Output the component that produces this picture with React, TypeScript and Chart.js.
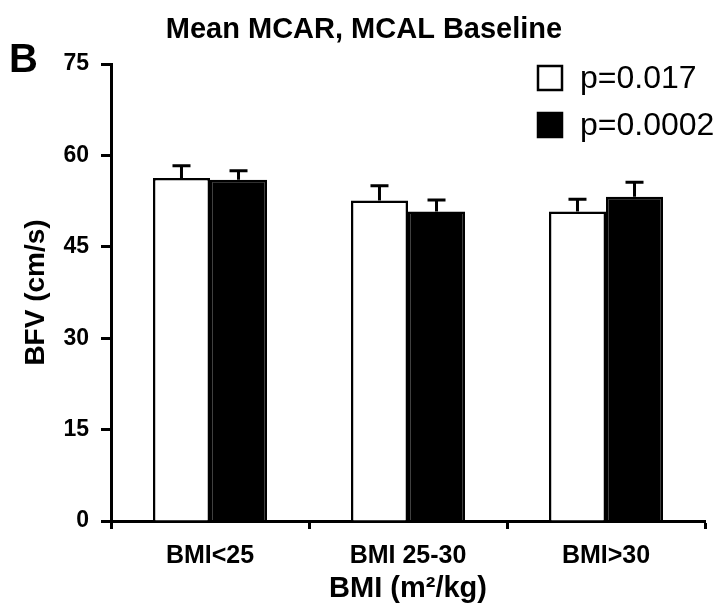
import React, { useEffect, useRef } from "react";
import { Chart, registerables } from "chart.js";

Chart.register(...registerables);

const categories = ["BMI<25", "BMI 25-30", "BMI>30"];
const seriesLabels = ["p=0.017", "p=0.0002"];
const whiteValues = [56.3, 52.6, 50.8];
const whiteErrors = [2.0, 2.4, 2.0];
const blackValues = [56.0, 50.8, 53.2];
const blackErrors = [1.5, 1.9, 2.4];
const yTicks = [0, 15, 30, 45, 60, 75];
const chartTitle = "Mean MCAR, MCAL Baseline";
const panelLetter = "B";
const yTitle = "BFV (cm/s)";
const xTitle = "BMI (m\u00B2/kg)";

const FONT = '"Liberation Sans", Arial, Helvetica, sans-serif';

const errorBarsPlugin = {
  id: "errorBars",
  afterDatasetsDraw(chart: any) {
    const ctx = chart.ctx;
    const yScale = chart.scales.y;
    chart.data.datasets.forEach((ds: any, di: number) => {
      const meta = chart.getDatasetMeta(di);
      meta.data.forEach((el: any, i: number) => {
        const v = ds.data[i];
        const e = ds.errors[i];
        const yTop = yScale.getPixelForValue(v + e);
        const yBar = yScale.getPixelForValue(v);
        ctx.save();
        ctx.strokeStyle = "#000";
        ctx.lineWidth = 3;
        ctx.beginPath();
        ctx.moveTo(el.x, yBar);
        ctx.lineTo(el.x, yTop);
        ctx.moveTo(el.x - 9, yTop);
        ctx.lineTo(el.x + 9, yTop);
        ctx.stroke();
        ctx.restore();
      });
    });
  },
};

const decorPlugin = {
  id: "decor",
  afterDraw(chart: any) {
    const ctx = chart.ctx;
    ctx.save();
    ctx.fillStyle = "#000";
    ctx.textBaseline = "middle";
    ctx.textAlign = "center";
    ctx.font = `bold 29px ${FONT}`;
    ctx.fillText(chartTitle, 364, 30);
    ctx.textAlign = "left";
    ctx.font = `bold 40px ${FONT}`;
    ctx.fillText(panelLetter, 9, 61);
    // legend
    const items = chart.data.datasets;
    const ys = [78, 125];
    items.forEach((ds: any, i: number) => {
      const y = ys[i];
      ctx.fillStyle = ds.backgroundColor;
      ctx.fillRect(538, y - 12, 24, 24);
      ctx.strokeStyle = "#000";
      ctx.lineWidth = 2.5;
      ctx.strokeRect(538, y - 12, 24, 24);
      ctx.fillStyle = "#000";
      ctx.font = `32px ${FONT}`;
      ctx.fillText(ds.label, 580, y + 1);
    });
    ctx.restore();
  },
};

export default function App() {
  const ref = useRef<HTMLCanvasElement | null>(null);
  useEffect(() => {
    if (!ref.current) return;
    const chart = new Chart(ref.current, {
      type: "bar",
      data: {
        labels: categories,
        datasets: [
          {
            label: seriesLabels[0],
            data: whiteValues,
            errors: whiteErrors,
            backgroundColor: "#ffffff",
            borderColor: "#000000",
            borderWidth: 2.5,
            categoryPercentage: 0.576,
            barPercentage: 1,
          } as any,
          {
            label: seriesLabels[1],
            data: blackValues,
            errors: blackErrors,
            backgroundColor: "#000000",
            borderColor: "#000000",
            borderWidth: 2.5,
            categoryPercentage: 0.576,
            barPercentage: 1,
          } as any,
        ],
      },
      options: {
        animation: false,
        responsive: false,
        maintainAspectRatio: false,
        layout: { padding: { top: 64, right: 18, left: 0, bottom: 0 } },
        plugins: {
          legend: { display: false },
          title: { display: false },
          tooltip: { enabled: false },
        },
        scales: {
          x: {
            offset: true,
            grid: {
              offset: true,
              drawOnChartArea: false,
              drawTicks: true,
              tickLength: 8,
              tickWidth: 3,
              tickColor: "#000",
            },
            border: { display: true, color: "#000", width: 3 },
            ticks: {
              color: "#000",
              padding: 12,
              font: { family: FONT, size: 25, weight: "bold" },
              maxRotation: 0,
            },
            title: {
              display: true,
              text: xTitle,
              color: "#000",
              font: { family: FONT, size: 29, weight: "bold" },
              padding: { top: 0, bottom: 5 },
            },
            afterFit(s: any) {
              s.height = 90;
            },
          },
          y: {
            min: 0,
            max: 75,
            afterBuildTicks(s: any) {
              s.ticks = yTicks.map((v) => ({ value: v }));
            },
            grid: {
              drawOnChartArea: false,
              drawTicks: true,
              tickLength: 10,
              tickWidth: 3,
              tickColor: "#000",
            },
            border: { display: true, color: "#000", width: 3 },
            ticks: {
              color: "#000",
              padding: 12,
              font: { family: FONT, size: 23, weight: "bold" },
            },
            title: {
              display: true,
              text: yTitle,
              color: "#000",
              font: { family: FONT, size: 28, weight: "bold" },
              padding: { top: 19, bottom: 0 },
            },
            afterFit(s: any) {
              s.width = 111;
            },
          },
        },
      } as any,
      plugins: [errorBarsPlugin, decorPlugin],
    });
    return () => chart.destroy();
  }, []);
  return (
    <div style={{ position: "fixed", left: 0, top: 0, width: 723, height: 611, background: "#fff" }}>
      <canvas ref={ref} width={723} height={611} style={{ width: 723, height: 611, display: "block" }} />
    </div>
  );
}
